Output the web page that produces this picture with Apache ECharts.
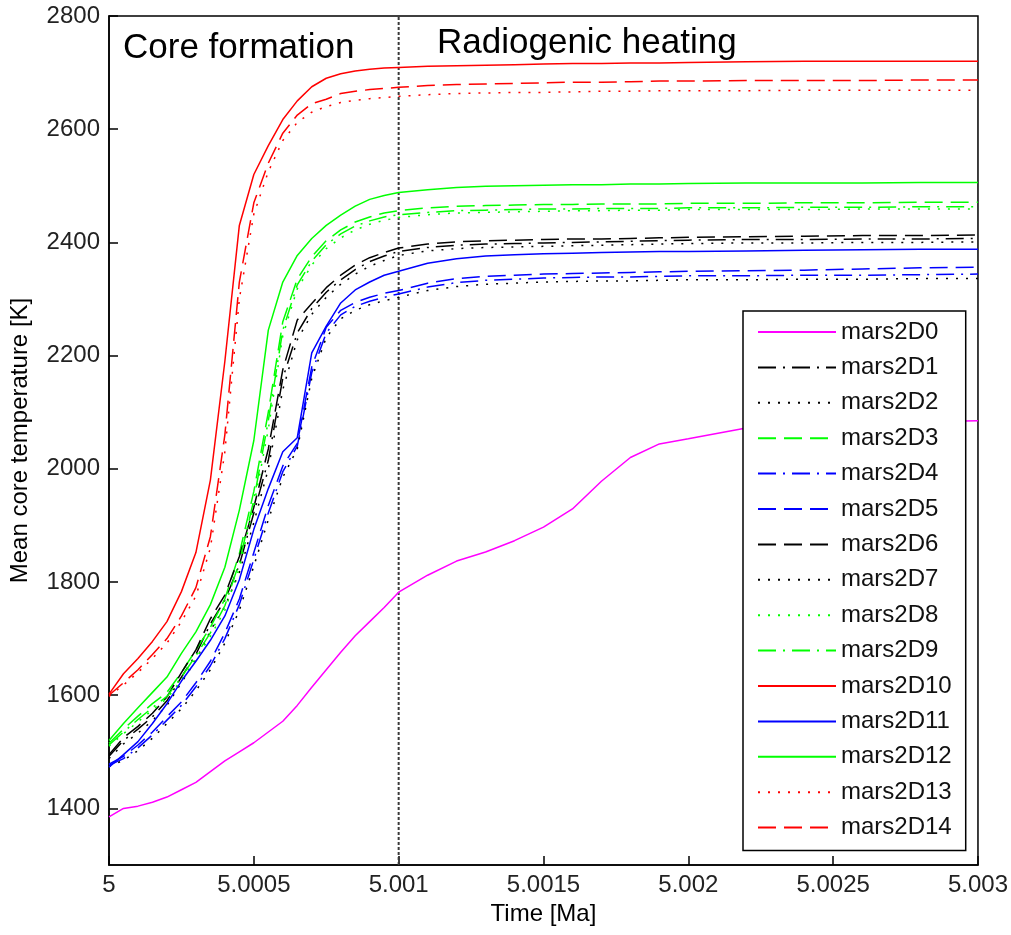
<!DOCTYPE html>
<html>
<head>
<meta charset="utf-8">
<script src="https://cdn.jsdelivr.net/npm/echarts@6/dist/echarts.min.js"></script>
<style>
  html, body { margin: 0; padding: 0; background: #fff; }
  #chart { width: 1011px; height: 935px; }
</style>
</head>
<body>
<div id="chart"></div>
<script>
// Time axis samples [Ma]
const timeMa = [5, 5.00005, 5.0001, 5.00015, 5.0002, 5.00025, 5.0003, 5.00035, 5.0004, 5.00045,
  5.0005, 5.00055, 5.0006, 5.00065, 5.0007, 5.00075, 5.0008, 5.00085, 5.0009, 5.00095,
  5.001, 5.0011, 5.0012, 5.0013, 5.0014, 5.0015, 5.0016, 5.0017, 5.0018, 5.0019,
  5.002, 5.0022, 5.0024, 5.0026, 5.0028, 5.003];

// Mean core temperature [K] for each run
const mars2D0 = [1385,1400,1404,1411,1420,1433,1446,1465,1484,1500,1516,1535,1554,1582,1614,1645,1676,1705,1730,1755,1782,1812,1837,1853,1873,1897,1929,1978,2020,2044,2053,2072,2077,2080,2083,2085];
const mars2D1 = [1492,1520,1540,1562,1590,1632,1672,1726,1768,1830,1922,2015,2160,2240,2283,2312,2334,2352,2366,2376,2384,2391,2395,2397,2398,2399,2400,2401,2402,2403,2404,2405,2405,2406,2406,2407];
const mars2D2 = [1488,1514,1533,1555,1582,1622,1662,1714,1757,1817,1905,2000,2140,2228,2273,2303,2326,2344,2358,2368,2377,2385,2389,2391,2392,2393,2394,2395,2396,2397,2398,2399,2399,2400,2400,2401];
const mars2D3 = [1515,1540,1563,1585,1605,1640,1680,1720,1770,1850,1960,2100,2260,2335,2375,2403,2422,2436,2445,2452,2456,2461,2464,2465,2466,2467,2467,2468,2468,2468,2469,2469,2470,2470,2471,2471];
const mars2D4 = [1476,1488,1507,1530,1556,1582,1615,1652,1700,1760,1840,1922,1995,2040,2170,2240,2272,2287,2296,2303,2309,2321,2329,2333,2335,2337,2338,2339,2339,2340,2341,2341,2342,2342,2343,2344];
const mars2D5 = [1478,1492,1512,1535,1562,1588,1622,1660,1710,1770,1852,1935,2005,2045,2180,2250,2280,2294,2303,2310,2315,2328,2336,2340,2342,2344,2345,2346,2347,2348,2349,2350,2351,2353,2355,2356];
const mars2D6 = [1495,1525,1545,1568,1597,1640,1680,1735,1777,1845,1932,2035,2175,2263,2292,2320,2342,2360,2373,2382,2390,2397,2401,2403,2404,2405,2406,2406,2407,2408,2409,2410,2411,2412,2412,2413];
const mars2D7 = [1474,1485,1502,1524,1550,1576,1608,1645,1692,1750,1828,1910,1985,2035,2160,2232,2265,2280,2290,2297,2303,2315,2322,2326,2328,2330,2331,2332,2332,2333,2334,2334,2335,2335,2336,2336];
const mars2D8 = [1510,1532,1553,1574,1594,1627,1665,1704,1750,1825,1935,2070,2235,2318,2360,2389,2408,2422,2432,2439,2444,2449,2452,2453,2454,2455,2456,2456,2457,2457,2458,2458,2458,2459,2459,2459];
const mars2D9 = [1512,1535,1557,1578,1598,1632,1670,1710,1758,1835,1945,2085,2245,2325,2367,2396,2415,2429,2438,2445,2449,2453,2456,2457,2458,2459,2459,2460,2460,2460,2461,2461,2462,2462,2463,2463];
const mars2D10 = [1602,1638,1665,1695,1730,1783,1852,1980,2190,2430,2520,2571,2617,2650,2675,2690,2698,2703,2706,2708,2709,2711,2712,2713,2714,2715,2716,2716,2717,2717,2718,2719,2720,2720,2720,2720];
const mars2D11 = [1473,1495,1518,1550,1585,1625,1660,1697,1740,1804,1893,1965,2030,2055,2205,2252,2293,2316,2330,2342,2349,2363,2371,2376,2378,2380,2381,2382,2383,2384,2384,2385,2386,2387,2388,2388];
const mars2D12 = [1520,1550,1578,1605,1632,1674,1712,1760,1826,1927,2050,2245,2330,2377,2407,2430,2448,2464,2476,2483,2488,2493,2497,2499,2500,2501,2502,2502,2503,2503,2504,2505,2505,2505,2506,2506];
const mars2D13 = [1598,1618,1640,1665,1692,1730,1775,1860,2030,2300,2450,2525,2580,2612,2630,2640,2647,2651,2654,2656,2658,2661,2663,2664,2665,2665,2666,2667,2667,2668,2668,2668,2669,2669,2669,2669];
const mars2D14 = [1600,1622,1645,1672,1700,1740,1790,1880,2060,2330,2470,2540,2593,2625,2645,2653,2663,2667,2670,2672,2674,2677,2679,2680,2681,2682,2683,2683,2684,2685,2685,2686,2686,2686,2687,2687];

// Axis ticks
const xTicks = [5, 5.0005, 5.001, 5.0015, 5.002, 5.0025, 5.003];
const yTicks = [1400, 1600, 1800, 2000, 2200, 2400, 2600, 2800];
const yRange = [1300, 2800];

// Boundary between the two phases [Ma]
const phaseBoundary = 5.001;
const phaseLabels = ['Core formation', 'Radiogenic heating'];

const FONT = "'Liberation Sans', Arial, Helvetica, sans-serif";

// MATLAB-like line styles
const DASH = [18, 8];
const DASHDOT = [18, 7, 2, 7];
const DOT = [2, 8];

const runs = [
  { name: 'mars2D0',  data: mars2D0,  color: '#ff00ff', type: 'solid' },
  { name: 'mars2D1',  data: mars2D1,  color: '#000000', type: DASHDOT },
  { name: 'mars2D2',  data: mars2D2,  color: '#000000', type: DOT },
  { name: 'mars2D3',  data: mars2D3,  color: '#00ff00', type: DASH },
  { name: 'mars2D4',  data: mars2D4,  color: '#0000ff', type: DASHDOT },
  { name: 'mars2D5',  data: mars2D5,  color: '#0000ff', type: DASH },
  { name: 'mars2D6',  data: mars2D6,  color: '#000000', type: DASH },
  { name: 'mars2D7',  data: mars2D7,  color: '#000000', type: DOT },
  { name: 'mars2D8',  data: mars2D8,  color: '#00ff00', type: DOT },
  { name: 'mars2D9',  data: mars2D9,  color: '#00ff00', type: DASHDOT },
  { name: 'mars2D10', data: mars2D10, color: '#ff0000', type: 'solid' },
  { name: 'mars2D11', data: mars2D11, color: '#0000ff', type: 'solid' },
  { name: 'mars2D12', data: mars2D12, color: '#00ff00', type: 'solid' },
  { name: 'mars2D13', data: mars2D13, color: '#ff0000', type: DOT },
  { name: 'mars2D14', data: mars2D14, color: '#ff0000', type: DASH }
];

const series = runs.map(r => ({
  name: r.name,
  type: 'line',
  data: timeMa.map((t, k) => [t, r.data[k]]),
  symbol: 'none',
  showSymbol: false,
  silent: true,
  animation: false,
  color: r.color,
  itemStyle: { color: r.color, opacity: 0 },
  lineStyle: { color: r.color, width: 1.5, type: r.type, cap: 'butt' },
  z: 3
}));

// Vertical separator between the two phases
series.push({
  name: 'phase boundary',
  type: 'line',
  data: [[phaseBoundary, yRange[0]], [phaseBoundary, yRange[1]]],
  symbol: 'none',
  silent: true,
  animation: false,
  lineStyle: { color: '#3a3a3a', width: 2, type: [3, 2], cap: 'butt' },
  z: 2
});

const chart = echarts.init(document.getElementById('chart'), null, { renderer: 'canvas' });
chart.setOption({
  backgroundColor: '#ffffff',
  animation: false,
  textStyle: { fontFamily: FONT },
  grid: {
    left: 109, right: 28, top: 16, bottom: 70,
    show: true, borderColor: '#000', borderWidth: 1.5, backgroundColor: '#fff'
  },
  xAxis: {
    type: 'value',
    min: 5, max: 5.003,
    name: 'Time [Ma]',
    nameLocation: 'middle',
    nameGap: 37,
    nameTextStyle: { fontSize: 24, color: '#000', fontFamily: FONT },
    axisLine: { show: true, lineStyle: { color: '#000', width: 1.5 } },
    axisTick: { show: true, inside: true, length: 9, customValues: xTicks, lineStyle: { color: '#000', width: 1.5 } },
    axisLabel: {
      customValues: xTicks,
      fontSize: 24, color: '#222', fontFamily: FONT, margin: 8,
      formatter: v => String(+Number(v).toFixed(4))
    },
    splitLine: { show: false }
  },
  yAxis: {
    type: 'value',
    min: yRange[0], max: yRange[1],
    name: 'Mean core temperature [K]',
    nameLocation: 'middle',
    nameGap: 77,
    nameRotate: 90,
    nameTextStyle: { fontSize: 24, color: '#000', fontFamily: FONT },
    axisLine: { show: true, lineStyle: { color: '#000', width: 1.5 } },
    axisTick: { show: true, inside: true, length: 9, customValues: yTicks, lineStyle: { color: '#000', width: 1.5 } },
    axisLabel: {
      customValues: yTicks, fontSize: 24, color: '#222', fontFamily: FONT, margin: 9,
      formatter: v => String(v)
    },
    splitLine: { show: false }
  },
  legend: {
    orient: 'vertical',
    left: 743, top: 311,
    backgroundColor: '#fff',
    borderColor: '#000', borderWidth: 1.5,
    padding: [9, 14, 11, 14],
    itemWidth: 78, itemHeight: 14, itemGap: 11.4,
    selectedMode: false,
    itemStyle: { opacity: 0 },
    textStyle: { fontSize: 24, color: '#111', fontFamily: FONT, lineHeight: 24 },
    data: runs.map(r => r.name)
  },
  graphic: [
    {
      type: 'text', left: 123, top: 31, silent: true, z: 10,
      style: { text: phaseLabels[0], font: '35px ' + FONT, fill: '#000' }
    },
    {
      type: 'text', left: 437, top: 26, silent: true, z: 10,
      style: { text: phaseLabels[1], font: '35px ' + FONT, fill: '#000' }
    }
  ],
  series: series
});
</script>
</body>
</html>
